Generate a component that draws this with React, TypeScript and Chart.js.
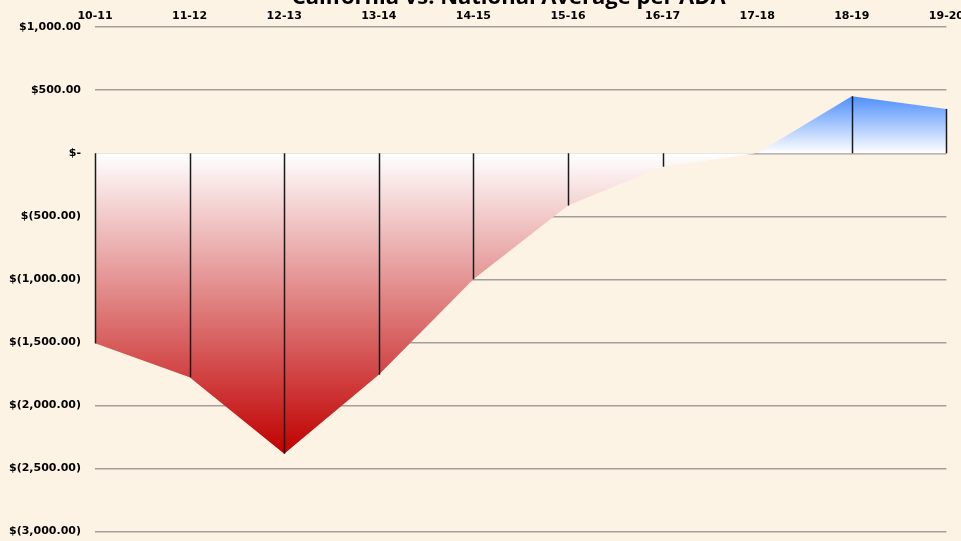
import React, { useEffect, useRef } from "react";
import { Chart, registerables } from "chart.js";

Chart.register(...registerables);

const TITLE = "California vs. National Average per ADA";
const CATEGORIES = ["10-11", "11-12", "12-13", "13-14", "14-15", "15-16", "16-17", "17-18", "18-19", "19-20"];
const DIFFERENCE = [-1508, -1777, -2383, -1757, -1000, -415, -107, 0, 452, 352];
const Y_MIN = -3000;
const Y_MAX = 1000;
const Y_STEP = 500;

const BG = "#fdf3e4";

function fmtMoney(v: number): string {
  if (v === 0) return "$-";
  const s = Math.abs(v).toLocaleString("en-US", { minimumFractionDigits: 2, maximumFractionDigits: 2 });
  return v < 0 ? `$(${s})` : `$${s}`;
}

const dropLines = {
  id: "dropLines",
  afterDatasetsDraw(chart: any) {
    const meta = chart.getDatasetMeta(0);
    const y0 = chart.scales.y.getPixelForValue(0);
    const ctx = chart.ctx;
    ctx.save();
    ctx.strokeStyle = "#1a1a1a";
    ctx.lineWidth = 1.5;
    meta.data.forEach((pt: any) => {
      if (Math.abs(pt.y - y0) < 1) return;
      ctx.beginPath();
      ctx.moveTo(Math.round(pt.x) + 0.5, y0);
      ctx.lineTo(Math.round(pt.x) + 0.5, pt.y);
      ctx.stroke();
    });
    ctx.restore();
  },
};

const topTitle = {
  id: "topTitle",
  afterDraw(chart: any) {
    const ctx = chart.ctx;
    const a = chart.chartArea;
    ctx.save();
    ctx.fillStyle = "#000";
    ctx.font = "bold 22px 'Open Sans'";
    ctx.textAlign = "center";
    ctx.textBaseline = "alphabetic";
    ctx.fillText(TITLE, (a.left + a.right) / 2 - 12, 22);
    ctx.restore();
  },
};

export default function App() {
  const ref = useRef<HTMLCanvasElement | null>(null);
  useEffect(() => {
    document.body.style.background = BG;
    document.body.style.overflow = "hidden";
    const chart = new Chart(ref.current!, {
      type: "line",
      data: {
        labels: CATEGORIES,
        datasets: [
          {
            data: DIFFERENCE,
            borderWidth: 0,
            borderColor: "rgba(0,0,0,0)",
            pointRadius: 0,
            tension: 0,
            fill: "origin",
            backgroundColor: (c: any) => {
              const ch = c.chart;
              const y = ch.scales?.y;
              if (!ch.chartArea || !y) return "rgba(0,0,0,0)";
              const max = Math.max(...DIFFERENCE);
              const min = Math.min(...DIFFERENCE);
              const yTop = y.getPixelForValue(max);
              const yBot = y.getPixelForValue(min);
              const yZero = y.getPixelForValue(0);
              const g = ch.ctx.createLinearGradient(0, yTop, 0, yBot);
              const z = (yZero - yTop) / (yBot - yTop);
              g.addColorStop(0, "#4f8ffb");
              g.addColorStop(z, "#ffffff");
              g.addColorStop(1, "#c00000");
              return g;
            },
          },
        ],
      },
      options: {
        animation: false,
        responsive: true,
        maintainAspectRatio: false,
        layout: { padding: { left: 10, right: 0, top: 24, bottom: 0 } },
        plugins: {
          legend: { display: false },
          tooltip: { enabled: false },
          title: { display: false },
        },
        scales: {
          x: {
            position: "top",
            offset: false,
            grid: { display: false, drawTicks: false },
            border: { display: false },
            ticks: {
              color: "#000",
              font: { family: "DejaVu Sans", size: 11, weight: "bold" },
              padding: 4,
              maxRotation: 0,
              autoSkip: false,
            },
          },
          y: {
            min: Y_MIN,
            max: Y_MAX,
            grid: { color: "#a39f98", lineWidth: 1.5, drawTicks: false },
            border: { display: false },
            ticks: {
              stepSize: Y_STEP,
              color: "#000",
              font: { family: "DejaVu Sans", size: 11, weight: "bold" },
              padding: 14,
              callback: (v: any) => fmtMoney(Number(v)),
            },
          },
        },
      },
      plugins: [dropLines, topTitle],
    });
    return () => chart.destroy();
  }, []);
  return (
    <div style={{ position: "fixed", left: -15, top: -18, width: 983, height: 570, background: BG }}>
      <canvas ref={ref} />
    </div>
  );
}
